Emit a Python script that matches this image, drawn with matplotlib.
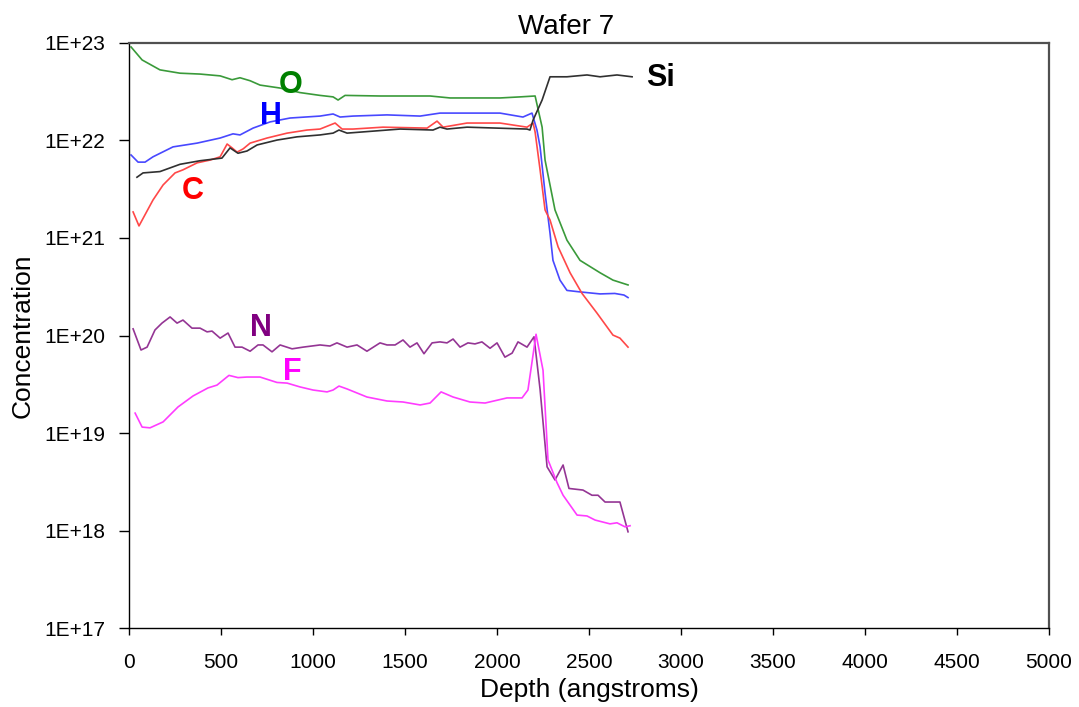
import matplotlib
matplotlib.use("Agg")
import matplotlib.pyplot as plt
from matplotlib.ticker import FixedLocator, FuncFormatter, NullLocator
import numpy as np

plt.rcParams['font.family'] = ['Liberation Sans', 'DejaVu Sans']

# ---- data (depth in angstroms, concentration) ----
o_depth = [11, 71, 168, 277, 386, 495, 560, 603, 658, 712, 821, 929, 1038, 1109, 1136, 1174,
           1364, 1636, 1745, 2016, 2125, 2207, 2245, 2261, 2315, 2380, 2451, 2560, 2630, 2712]
o_conc = [9.1e22, 6.7e22, 5.3e22, 4.9e22, 4.8e22, 4.6e22, 4.2e22, 4.4e22, 4.1e22, 3.7e22, 3.45e22,
          3.1e22, 2.9e22, 2.8e22, 2.6e22, 2.9e22, 2.86e22, 2.86e22, 2.73e22, 2.73e22, 2.8e22,
          2.86e22, 1.37e22, 6.3e21, 1.94e21, 9.5e20, 5.9e20, 4.4e20, 3.7e20, 3.3e20]

h_depth = [11, 49, 87, 130, 239, 370, 495, 565, 603, 674, 766, 875, 1038, 1109, 1147, 1217,
           1402, 1582, 1690, 1906, 2016, 2141, 2190, 2217, 2234, 2261, 2288, 2304, 2342, 2380,
           2451, 2560, 2640, 2690, 2712]
h_conc = [7.1e21, 6.0e21, 6.0e21, 6.8e21, 8.6e21, 9.4e21, 1.06e22, 1.17e22, 1.14e22, 1.34e22,
          1.55e22, 1.70e22, 1.78e22, 1.87e22, 1.74e22, 1.78e22, 1.83e22, 1.78e22, 1.91e22,
          1.91e22, 1.91e22, 1.74e22, 1.91e22, 1.28e22, 8.6e21, 2.9e21, 1.12e21, 5.9e20, 3.7e20,
          2.9e20, 2.8e20, 2.67e20, 2.7e20, 2.6e20, 2.45e20]

c_depth = [22, 54, 130, 185, 250, 293, 370, 440, 495, 533, 560, 587, 620, 658, 750, 859, 967,
           1038, 1120, 1158, 1217, 1380, 1620, 1674, 1707, 1837, 2016, 2163, 2196, 2207, 2234,
           2261, 2288, 2332, 2397, 2462, 2543, 2630, 2668, 2712]
c_conc = [1.85e21, 1.33e21, 2.45e21, 3.5e21, 4.65e21, 5.0e21, 5.9e21, 6.3e21, 6.8e21, 9.2e21,
          8.4e21, 7.6e21, 8.2e21, 9.4e21, 1.06e22, 1.19e22, 1.28e22, 1.31e22, 1.51e22, 1.31e22,
          1.31e22, 1.37e22, 1.34e22, 1.58e22, 1.37e22, 1.51e22, 1.51e22, 1.37e22, 1.51e22,
          1.22e22, 5.0e21, 1.94e21, 1.53e21, 8.1e20, 4.4e20, 2.7e20, 1.7e20, 1.01e20, 9.4e19,
          7.6e19]

si_depth = [43, 76, 168, 277, 386, 505, 549, 592, 641, 696, 804, 913, 1038, 1109, 1141, 1185,
            1473, 1652, 1690, 1728, 1837, 2163, 2179, 2196, 2245, 2288, 2380, 2489, 2560, 2652,
            2734]
si_conc = [4.2e21, 4.65e21, 4.8e21, 5.7e21, 6.2e21, 6.6e21, 8.4e21, 7.4e21, 7.8e21, 9.0e21,
           1.01e22, 1.09e22, 1.14e22, 1.19e22, 1.28e22, 1.19e22, 1.31e22, 1.28e22, 1.37e22,
           1.31e22, 1.37e22, 1.31e22, 1.28e22, 1.62e22, 2.6e22, 4.5e22, 4.5e22, 4.7e22, 4.5e22,
           4.7e22, 4.5e22]

n_depth = [22, 65, 98, 141, 179, 223, 261, 293, 342, 386, 424, 451, 495, 538, 576, 614, 658,
           701, 728, 777, 821, 886, 946, 1038, 1092, 1130, 1185, 1239, 1293, 1364, 1402, 1446,
           1489, 1527, 1565, 1603, 1647, 1690, 1728, 1761, 1799, 1842, 1880, 1918, 1962, 2000,
           2043, 2082, 2114, 2163, 2201, 2234, 2272, 2315, 2359, 2391, 2467, 2516, 2549, 2587,
           2668, 2712]
n_conc = [1.17e20, 7.1e19, 7.6e19, 1.14e20, 1.34e20, 1.55e20, 1.34e20, 1.44e20, 1.19e20,
          1.19e20, 1.09e20, 1.11e20, 9.4e19, 1.06e20, 7.6e19, 7.6e19, 6.9e19, 8.0e19, 8.0e19,
          6.8e19, 8.0e19, 7.3e19, 7.6e19, 8.0e19, 7.8e19, 8.4e19, 7.6e19, 8.0e19, 6.9e19,
          8.4e19, 8.0e19, 8.0e19, 9.0e19, 7.6e19, 8.4e19, 6.5e19, 8.4e19, 8.6e19, 8.4e19,
          9.2e19, 7.6e19, 8.4e19, 8.2e19, 8.6e19, 7.4e19, 8.4e19, 6.0e19, 6.6e19, 8.6e19,
          7.6e19, 9.7e19, 2.8e19, 4.5e18, 3.3e18, 4.7e18, 2.7e18, 2.6e18, 2.3e18, 2.3e18,
          1.96e18, 1.96e18, 9.7e17]

f_depth = [33, 71, 114, 185, 266, 348, 429, 478, 543, 592, 641, 712, 804, 859, 929, 1000,
           1076, 1109, 1141, 1185, 1293, 1402, 1489, 1582, 1636, 1696, 1761, 1853, 1935, 2054,
           2136, 2168, 2212, 2250, 2277, 2326, 2359, 2435, 2489, 2533, 2614, 2652, 2696, 2723]
f_conc = [1.6e19, 1.15e19, 1.13e19, 1.30e19, 1.85e19, 2.4e19, 2.9e19, 3.1e19, 3.9e19, 3.7e19,
          3.75e19, 3.75e19, 3.3e19, 3.25e19, 2.97e19, 2.76e19, 2.64e19, 2.76e19, 3.03e19,
          2.83e19, 2.34e19, 2.13e19, 2.08e19, 1.94e19, 2.03e19, 2.64e19, 2.34e19, 2.08e19,
          2.03e19, 2.29e19, 2.29e19, 2.76e19, 1.03e20, 4.4e19, 5.3e18, 3.1e18, 2.3e18, 1.44e18,
          1.41e18, 1.28e18, 1.17e18, 1.20e18, 1.09e18, 1.12e18]

x_ticks = [0, 500, 1000, 1500, 2000, 2500, 3000, 3500, 4000, 4500, 5000]
y_ticks = [1e17, 1e18, 1e19, 1e20, 1e21, 1e22, 1e23]

# ---- figure ----
fig = plt.figure(figsize=(10.79, 7.07), dpi=100)
ax = fig.add_axes([0.1196, 0.1117, 0.8526, 0.8275])

lw = 1.2
ax.plot(o_depth, o_conc, color='#3a9a3a', lw=lw)
ax.plot(h_depth, h_conc, color='#4848ff', lw=lw)
ax.plot(c_depth, c_conc, color='#ff4848', lw=lw)
ax.plot(si_depth, si_conc, color='#303030', lw=lw)
ax.plot(n_depth, n_conc, color='#943594', lw=lw)
ax.plot(f_depth, f_conc, color='#ff3cff', lw=lw)

ax.set_yscale('log')
ax.set_xlim(0, 5000)
ax.set_ylim(1e17, 1e23)
ax.xaxis.set_major_locator(FixedLocator(x_ticks))
ax.yaxis.set_major_locator(FixedLocator(y_ticks))
ax.yaxis.set_minor_locator(NullLocator())
ax.xaxis.set_minor_locator(NullLocator())
ax.yaxis.set_major_formatter(FuncFormatter(lambda v, p: "1E+%d" % round(np.log10(v))))
ax.tick_params(axis='x', direction='out', length=5, width=1, labelsize=15,
               colors='black', pad=13)
ax.tick_params(axis='y', direction='out', length=7, width=1, labelsize=15,
               colors='black', pad=10)

for s in ['left', 'bottom']:
    ax.spines[s].set_color('black')
    ax.spines[s].set_linewidth(1.0)
for s in ['top', 'right']:
    ax.spines[s].set_color('#505050')
    ax.spines[s].set_linewidth(1.6)

fig.text(566 / 1079, 1 - 27 / 707, 'Wafer 7', fontsize=20, ha='center', va='center')
ax.set_xlabel('Depth (angstroms)', fontsize=19, labelpad=4)
ax.set_ylabel('Concentration', fontsize=19, labelpad=7)

lbl = dict(fontsize=22, fontweight='bold', ha='center', va='center')
ax.text(880, 3.75e22, 'O', color='#008000', **lbl)
ax.text(772, 1.77e22, 'H', color='#0000ff', **lbl)
ax.text(348, 3.0e21, 'C', color='#ff0000', **lbl)
ax.text(2886, 4.4e22, 'Si', color='black', **lbl)
ax.text(717, 1.19e20, 'N', color='#800080', **lbl)
ax.text(886, 4.2e19, 'F', color='#ff00ff', **lbl)

fig.savefig('out.png', dpi=100)
